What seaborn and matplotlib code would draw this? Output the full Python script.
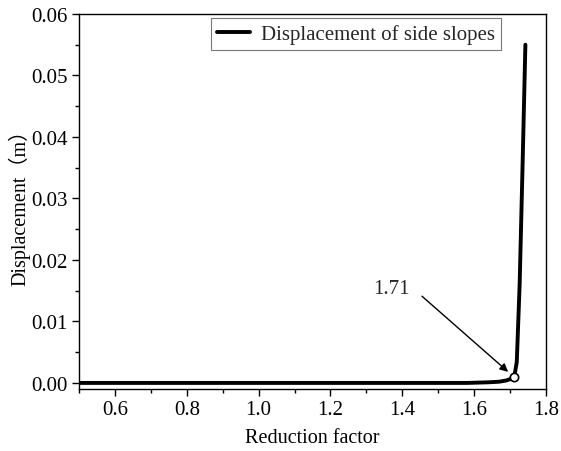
import matplotlib
matplotlib.use("Agg")
import matplotlib.pyplot as plt
from matplotlib.ticker import MultipleLocator, FormatStrFormatter
import seaborn as sns
import pandas as pd

# Reduction factor vs. displacement of the side slopes
reduction_factor = [0.50, 0.80, 1.00, 1.20, 1.40, 1.58, 1.64, 1.67, 1.69, 1.70, 1.712,
                    1.719, 1.727, 1.735, 1.743]
displacement = [0.0, 0.0, 0.0, 0.0, 0.0, 0.0, 0.0001, 0.0002, 0.0004, 0.0006, 0.0010,
                0.0034, 0.0160, 0.0350, 0.0550]
critical_factor = 1.71
critical_disp = 0.0010

df = pd.DataFrame({"Reduction factor": reduction_factor, "Displacement": displacement})

sns.set_theme(style="ticks")
plt.rcParams["font.family"] = ["Liberation Serif", "Noto Sans CJK SC"]

fig = plt.figure(figsize=(5.61, 4.52), dpi=100)
ax = fig.add_axes([0.141, 0.137, 0.832, 0.830])

sns.lineplot(data=df, x="Reduction factor", y="Displacement", ax=ax, color="black",
             linewidth=2.8, label="Displacement of side slopes", sort=False)
ax.plot([critical_factor + 0.002], [critical_disp], marker="o", markersize=6,
        markerfacecolor="white", markeredgecolor="black", markeredgewidth=1.2, zorder=5)

# label and pointer for the critical reduction factor
ax.text(1.369, 0.0146, f"{critical_factor:.2f}", fontsize=15, ha="center", va="baseline")
ax.annotate("", xy=(1.695, 0.0018), xytext=(1.455, 0.0141),
            arrowprops=dict(arrowstyle="-|>", color="black", lw=1.0, mutation_scale=12,
                            shrinkA=0, shrinkB=0))

ax.set_xlim(0.5, 1.8)
ax.set_ylim(-0.001, 0.06)
ax.xaxis.set_major_locator(MultipleLocator(0.2))
ax.xaxis.set_minor_locator(MultipleLocator(0.1))
ax.yaxis.set_major_locator(MultipleLocator(0.01))
ax.yaxis.set_minor_locator(MultipleLocator(0.005))
ax.xaxis.set_major_formatter(FormatStrFormatter("%.1f"))
ax.yaxis.set_major_formatter(FormatStrFormatter("%.2f"))
ax.tick_params(which="major", direction="out", length=5, width=1, labelsize=15,
               colors="black", pad=3)
ax.tick_params(which="minor", direction="out", length=3, width=1, colors="black")
ax.set_xlim(0.5, 1.8)

ax.set_xlabel("Reduction factor", fontsize=14.5, color="black", labelpad=6)
ax.set_ylabel("Displacement（m）", fontsize=14.5, color="black", labelpad=0.5)
for s in ax.spines.values():
    s.set_linewidth(1.0)
    s.set_color("black")
    s.set_visible(True)

leg = ax.legend(loc="upper right", fontsize=15, frameon=True, fancybox=False,
                edgecolor="#555555", handlelength=1.6, borderpad=0.3,
                handletextpad=0.5, borderaxespad=0,
                bbox_to_anchor=(0.904, 0.989))
leg.get_frame().set_linewidth(0.8)

fig.savefig("out.png", dpi=100, facecolor="white")
